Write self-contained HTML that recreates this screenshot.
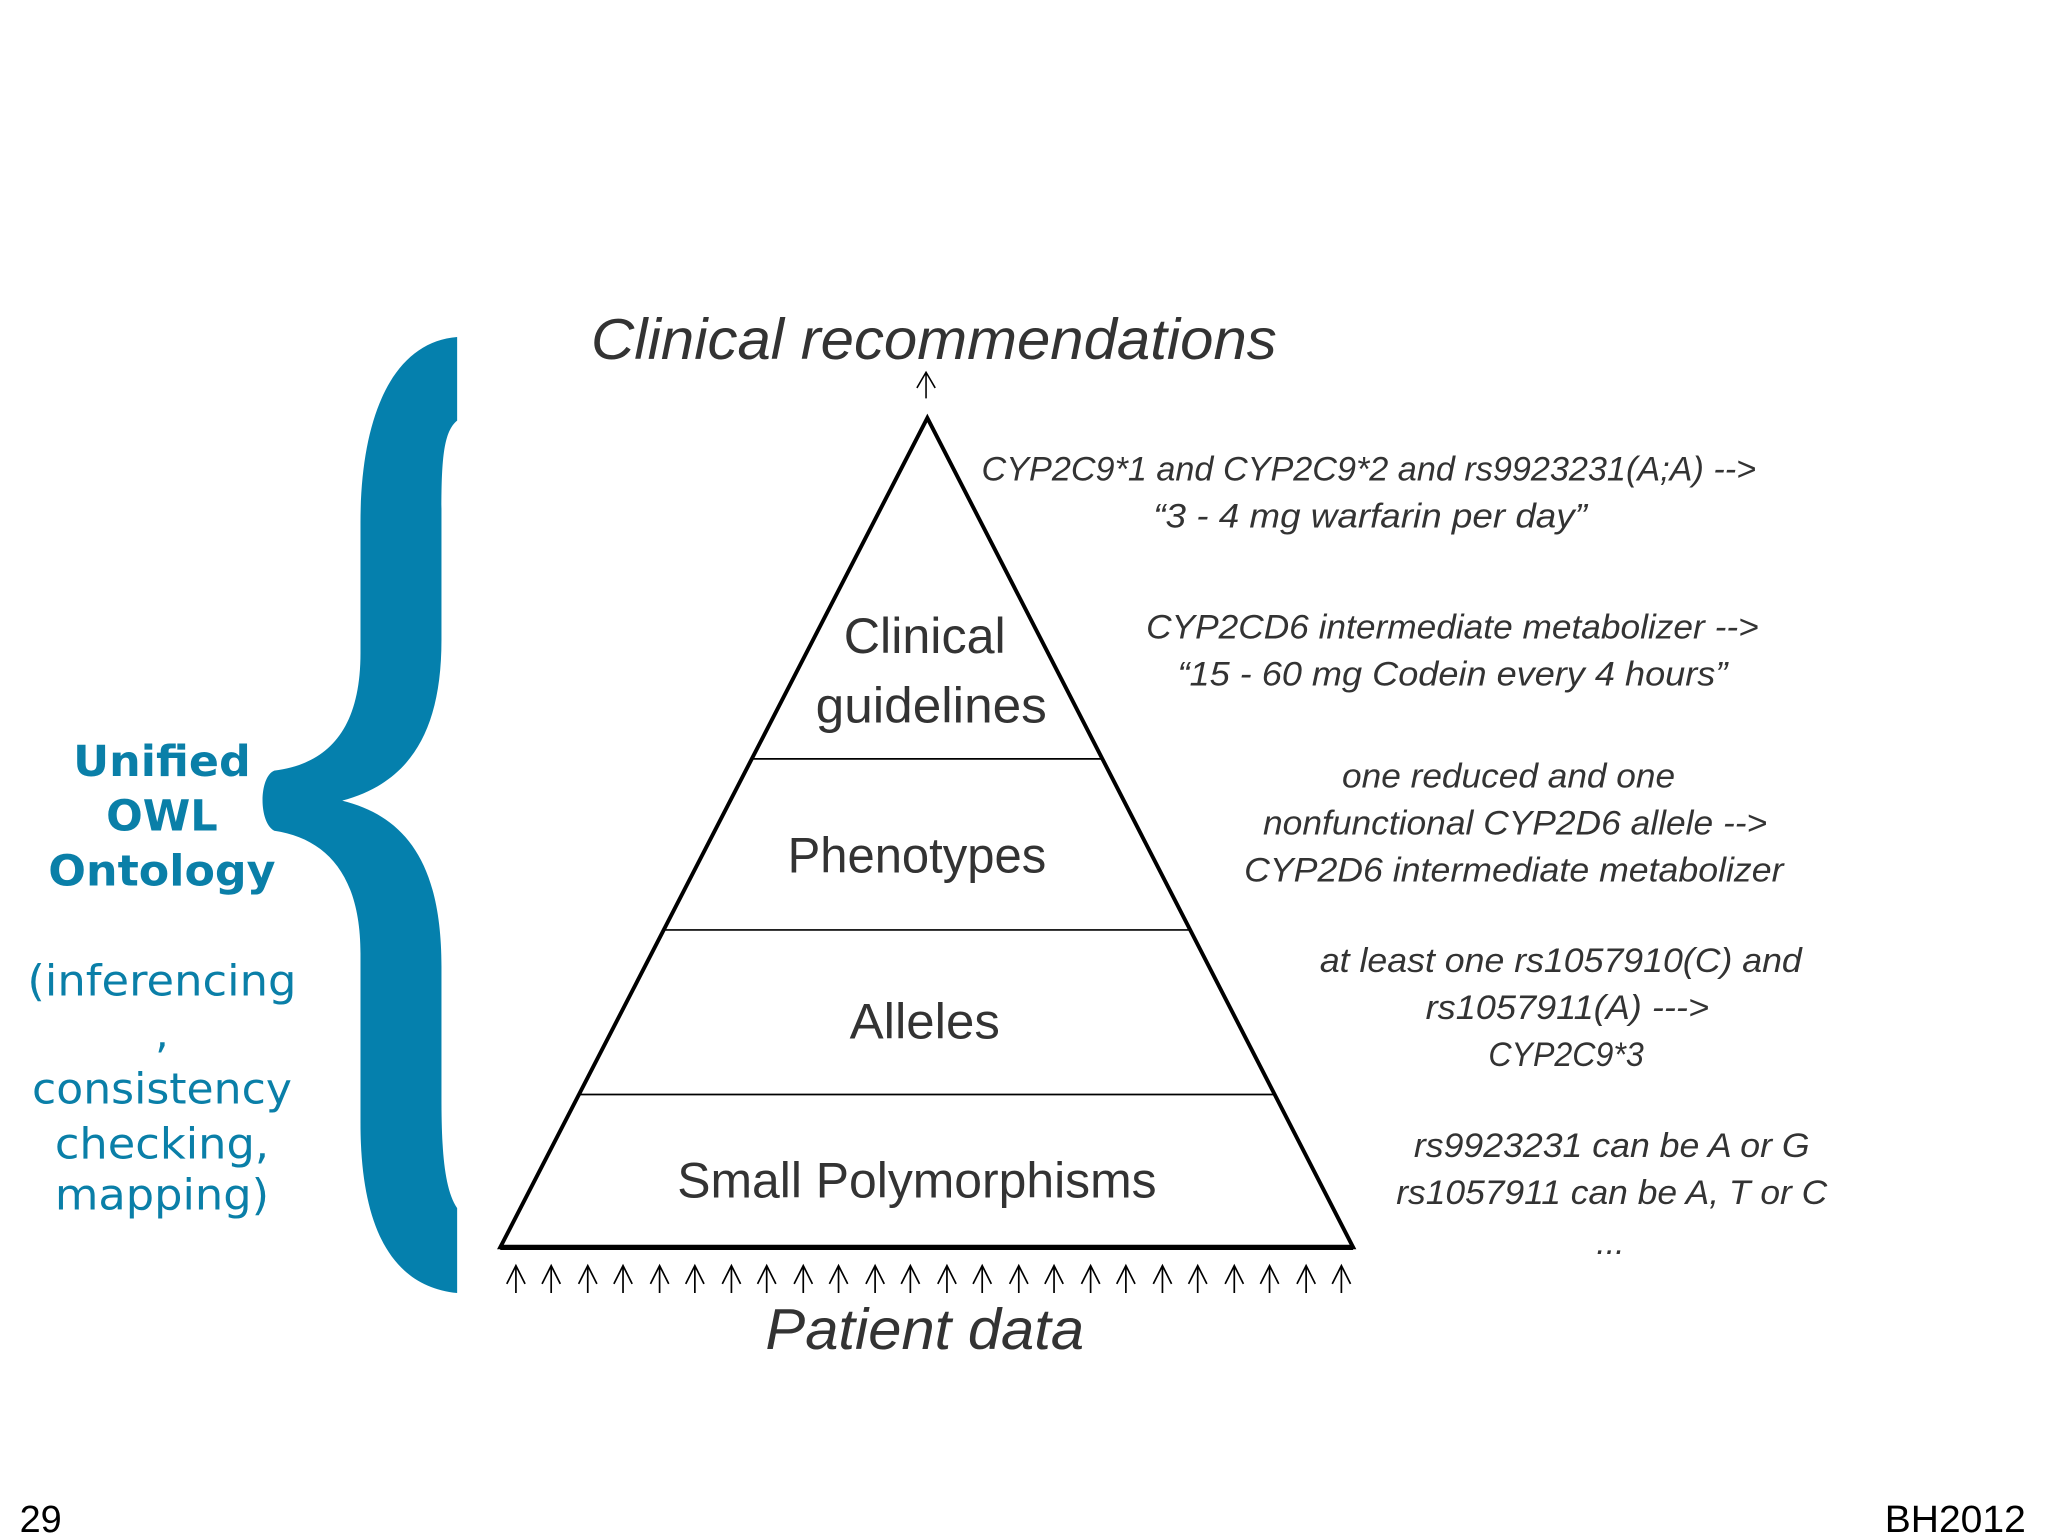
<!DOCTYPE html>
<html><head><meta charset="utf-8"><style>
html,body{margin:0;padding:0;background:#fff;}
svg{display:block;}
</style></head><body>
<svg width="2048" height="1536" viewBox="0 0 1568 1176" xmlns="http://www.w3.org/2000/svg">
<rect width="1568" height="1176" fill="#fff"/>
<path fill="#0580ad" d="M350,258 C300,262 276,320 276,400 L276,500 C276,560 250,585 210,590 C198,595 198,630 210,636 C250,642 276,670 276,730 L276,860 C276,940 300,985 350,990 L350,925 C340,910 338,880 338,840 L338,740 C338,660 310,625 262,613 C310,600 338,565 338,490 L338,390 C338,350 340,330 350,322 Z"/>
<g font-family="'DejaVu Sans', Verdana, sans-serif" fill="#0a7fa8" text-anchor="middle">
<g font-weight="bold" font-size="33">
<text x="124" y="594" textLength="136" lengthAdjust="spacingAndGlyphs">Unified</text>
<text x="124" y="636">OWL</text>
<text x="124" y="678" textLength="174" lengthAdjust="spacingAndGlyphs">Ontology</text>
</g>
<g font-size="33">
<text x="124" y="762" textLength="206" lengthAdjust="spacingAndGlyphs">(inferencing</text>
<text x="124" y="802">,</text>
<text x="124" y="845" textLength="199" lengthAdjust="spacingAndGlyphs">consistency</text>
<text x="124" y="887" textLength="164" lengthAdjust="spacingAndGlyphs">checking,</text>
<text x="124" y="926" textLength="164" lengthAdjust="spacingAndGlyphs">mapping)</text>
</g>
</g>
<g stroke="#000" fill="none">
<path d="M710,320 L383,955 L1036,955 Z" stroke-width="3" stroke-linejoin="miter"/>
<line x1="383" y1="955" x2="1036" y2="955" stroke-width="4"/>
<line x1="576" y1="581" x2="844" y2="581" stroke-width="1.3"/>
<line x1="508" y1="712" x2="911" y2="712" stroke-width="1.3"/>
<line x1="443" y1="838" x2="976" y2="838" stroke-width="1.3"/>
<path d="M709,305 L709,286 M702,297 L709,285 L716,297" stroke-width="1.2"/>
<g stroke-width="1.3">
<path d="M395,990 V969 M388,983 L395,969 L402,983"/><path d="M422,990 V969 M415,983 L422,969 L429,983"/><path d="M450,990 V969 M443,983 L450,969 L457,983"/><path d="M477,990 V969 M470,983 L477,969 L484,983"/><path d="M505,990 V969 M498,983 L505,969 L512,983"/><path d="M532,990 V969 M525,983 L532,969 L539,983"/><path d="M560,990 V969 M553,983 L560,969 L567,983"/><path d="M587,990 V969 M580,983 L587,969 L594,983"/><path d="M615,990 V969 M608,983 L615,969 L622,983"/><path d="M642,990 V969 M635,983 L642,969 L649,983"/><path d="M670,990 V969 M663,983 L670,969 L677,983"/><path d="M697,990 V969 M690,983 L697,969 L704,983"/><path d="M725,990 V969 M718,983 L725,969 L732,983"/><path d="M752,990 V969 M745,983 L752,969 L759,983"/><path d="M780,990 V969 M773,983 L780,969 L787,983"/><path d="M807,990 V969 M800,983 L807,969 L814,983"/><path d="M835,990 V969 M828,983 L835,969 L842,983"/><path d="M862,990 V969 M855,983 L862,969 L869,983"/><path d="M890,990 V969 M883,983 L890,969 L897,983"/><path d="M917,990 V969 M910,983 L917,969 L924,983"/><path d="M945,990 V969 M938,983 L945,969 L952,983"/><path d="M972,990 V969 M965,983 L972,969 L979,983"/><path d="M1000,990 V969 M993,983 L1000,969 L1007,983"/><path d="M1027,990 V969 M1020,983 L1027,969 L1034,983"/>
</g>
</g>
<g font-family="'Liberation Sans', Arial, sans-serif" fill="#333" text-anchor="middle">
<text x="715" y="275" font-size="44" font-style="italic" textLength="525" lengthAdjust="spacingAndGlyphs">Clinical recommendations</text>
<text x="708" y="1033" font-size="44" font-style="italic" textLength="244" lengthAdjust="spacingAndGlyphs">Patient data</text>
<g font-size="38">
<text x="708" y="500" textLength="124" lengthAdjust="spacingAndGlyphs">Clinical</text>
<text x="713" y="553" textLength="177" lengthAdjust="spacingAndGlyphs">guidelines</text>
<text x="702" y="668" textLength="198" lengthAdjust="spacingAndGlyphs">Phenotypes</text>
<text x="708" y="795" textLength="115" lengthAdjust="spacingAndGlyphs">Alleles</text>
<text x="702" y="917" textLength="367" lengthAdjust="spacingAndGlyphs">Small Polymorphisms</text>
</g>
<g font-size="26" font-style="italic">
<text x="1048" y="368" textLength="593" lengthAdjust="spacingAndGlyphs">CYP2C9*1 and CYP2C9*2 and rs9923231(A;A) --&gt;</text>
<text x="1049" y="404" textLength="332" lengthAdjust="spacingAndGlyphs">“3 - 4 mg warfarin per day”</text>
<text x="1112" y="489" textLength="469" lengthAdjust="spacingAndGlyphs">CYP2CD6 intermediate metabolizer --&gt;</text>
<text x="1112" y="525" textLength="421" lengthAdjust="spacingAndGlyphs">“15 - 60 mg Codein every 4 hours”</text>
<text x="1155" y="603" textLength="255" lengthAdjust="spacingAndGlyphs">one reduced and one</text>
<text x="1160" y="639" textLength="386" lengthAdjust="spacingAndGlyphs">nonfunctional CYP2D6 allele --&gt;</text>
<text x="1159" y="675" textLength="413" lengthAdjust="spacingAndGlyphs">CYP2D6 intermediate metabolizer</text>
<text x="1195" y="744" textLength="369" lengthAdjust="spacingAndGlyphs">at least one rs1057910(C) and</text>
<text x="1200" y="780" textLength="217" lengthAdjust="spacingAndGlyphs">rs1057911(A) ---&gt;</text>
<text x="1199" y="816" textLength="119" lengthAdjust="spacingAndGlyphs">CYP2C9*3</text>
<text x="1234" y="886" textLength="303" lengthAdjust="spacingAndGlyphs">rs9923231 can be A or G</text>
<text x="1234" y="922" textLength="330" lengthAdjust="spacingAndGlyphs">rs1057911 can be A, T or C</text>
<text x="1233" y="960">...</text>
</g>
</g>
<g font-family="'Liberation Sans', Arial, sans-serif" font-size="29" fill="#000">
<text x="15" y="1173">29</text>
<text x="1551" y="1173" text-anchor="end" textLength="108" lengthAdjust="spacingAndGlyphs">BH2012</text>
</g>
</svg>
</body></html>
